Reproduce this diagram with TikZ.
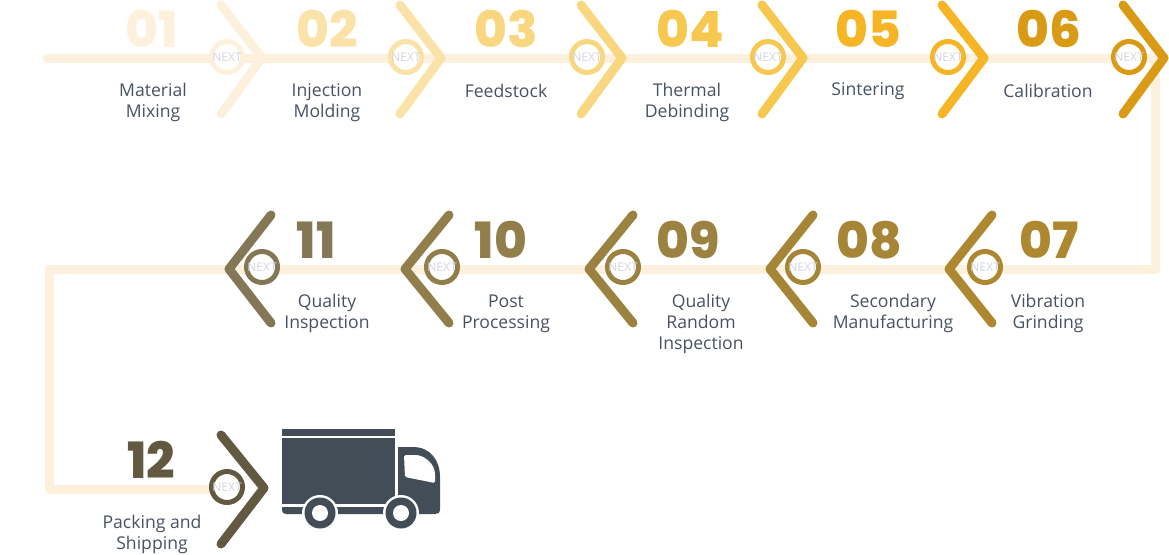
\documentclass[tikz,border=0pt]{standalone}
\usepackage{fontspec}
\setmainfont{Open Sans}
\newfontfamily\numfont{Poppins ExtraBold}
\usetikzlibrary{backgrounds}
\definecolor{TrackColor}{RGB}{253, 241, 222}
\definecolor{StepA}{RGB}{253, 241, 222}
\definecolor{StepB}{RGB}{251, 226, 168}
\definecolor{StepC}{RGB}{249, 215, 128}
\definecolor{StepD}{RGB}{247, 200, 80}
\definecolor{StepE}{RGB}{245, 181, 36}
\definecolor{StepF}{RGB}{217, 154, 22}
\definecolor{StepG}{RGB}{173, 136, 48}
\definecolor{StepH}{RGB}{166, 133, 54}
\definecolor{StepI}{RGB}{156, 130, 64}
\definecolor{StepJ}{RGB}{146, 126, 74}
\definecolor{StepK}{RGB}{132, 119, 86}
\definecolor{StepL}{RGB}{99, 88, 64}
\definecolor{TextColor}{RGB}{72, 82, 96}
\definecolor{NextColor}{RGB}{210, 214, 224}
\definecolor{TruckColor}{RGB}{67, 77, 87}

\begin{document}
\begin{tikzpicture}[
    x=1pt, y=-1pt,
    track/.style={line width=9pt, draw=TrackColor, line join=round, line cap=round},
    chev/.style={line width=9pt, line cap=round, line join=round},
    ringnext/.style={
        circle, draw, fill=white, line width=5pt, outer sep=0pt, inner sep=0pt,
        minimum size=31pt, text=NextColor, font=\fontsize{12}{12}\selectfont
    },
    stepnum/.style={font=\numfont\fontsize{50}{50}\selectfont, inner sep=0pt},
    steptext/.style={
        align=center, inner sep=0pt, text=TextColor,
        font=\fontsize{17.6}{21}\selectfont
    },
]
\useasboundingbox (0,0) rectangle (1169,554);

%% Rings
\node[ringnext, draw=StepA] (ring01) at (227,  57) {NEXT};
\node[ringnext, draw=StepB] (ring02) at (406,  57) {NEXT};
\node[ringnext, draw=StepC] (ring03) at (587,  57) {NEXT};
\node[ringnext, draw=StepD] (ring04) at (768,  57) {NEXT};
\node[ringnext, draw=StepE] (ring05) at (948,  57) {NEXT};
\node[ringnext, draw=StepF] (ring06) at (1129, 57) {NEXT};
\node[ringnext, draw=StepG] (ring07) at (985, 267) {NEXT};
\node[ringnext, draw=StepH] (ring08) at (803, 267) {NEXT};
\node[ringnext, draw=StepI] (ring09) at (623, 267) {NEXT};
\node[ringnext, draw=StepJ] (ring10) at (442, 267) {NEXT};
\node[ringnext, draw=StepK] (ring11) at (262, 267) {NEXT};
\node[ringnext, draw=StepL] (ring12) at (227, 487) {NEXT};

%% Track behind the rings
\coordinate (trackstart) at (47, 58.5);
\coordinate (tracktr) at (1155, 58.5);
\coordinate (trackmr) at (1155, 269);
\coordinate (trackml) at (49, 269);
\coordinate (trackbl) at (49, 489);
\begin{scope}[on background layer]
\draw[track] (trackstart) -- (tracktr) -- (trackmr) -- (trackml) -- (trackbl) -- (trackbl -| ring12.west);
\end{scope}

%% Chevrons
\draw[chev, StepA] (221, 5) -- (262, 58) -- (221, 114);
\draw[chev, StepB] (400, 5) -- (441, 58) -- (400, 114);
\draw[chev, StepC] (581, 5) -- (622, 58) -- (581, 114);
\draw[chev, StepD] (762, 5) -- (803, 58) -- (762, 114);
\draw[chev, StepE] (942, 5) -- (984, 58) -- (942, 114);
\draw[chev, StepF] (1123, 5) -- (1164, 58) -- (1123, 114);
\draw[chev, StepG] (992, 215) -- (949, 269) -- (992, 323);
\draw[chev, StepH] (813, 215) -- (770, 269) -- (813, 323);
\draw[chev, StepI] (633, 215) -- (589, 269) -- (633, 323);
\draw[chev, StepJ] (449, 215) -- (405, 269) -- (449, 323);
\draw[chev, StepK] (271, 215) -- (229, 269) -- (271, 323);
\draw[chev, StepL] (221, 435) -- (264, 488) -- (221, 544);

%% Numbers
\node[stepnum, StepA] (num01) at (152, 29) {01};
\node[stepnum, StepB] (num02) at (327, 29) {02};
\node[stepnum, StepC] (num03) at (506, 29) {03};
\node[stepnum, StepD] (num04) at (690, 29) {04};
\node[stepnum, StepE] (num05) at (868, 29) {05};
\node[stepnum, StepF] (num06) at (1049, 29) {06};
\node[stepnum, StepG] (num07) at (1049, 240) {07};
\node[stepnum, StepH] (num08) at (869, 240) {08};
\node[stepnum, StepI] (num09) at (688, 240) {09};
\node[stepnum, StepJ] (num10) at (501, 240) {10};
\node[stepnum, StepK] (num11) at (316, 240) {11};
\node[stepnum, StepL] (num12) at (151, 460) {12};

%% Step names
\node[steptext] (txt01) at (153, 102.5) {Material\\Mixing};
\node[steptext] (txt02) at (327, 102.5) {Injection\\Molding};
\node[steptext] (txt03) at (506, 90.5) {Feedstock};
\node[steptext] (txt04) at (687, 102.5) {Thermal\\Debinding};
\node[steptext] (txt05) at (868, 91.5) {Sintering};
\node[steptext] (txt06) at (1048, 90.5) {Calibration};
\node[steptext] (txt07) at (1048, 313) {Vibration\\Grinding};
\node[steptext] (txt08) at (893, 313) {Secondary\\Manufacturing};
\node[steptext] (txt09) at (701, 323.5) {Quality\\Random\\Inspection};
\node[steptext] (txt10) at (506, 314) {Post\\Processing};
\node[steptext] (txt11) at (327, 313) {Quality\\Inspection};
\node[steptext] (txt12) at (152, 534.5) {Packing and\\Shipping};

%% Truck
\fill[TruckColor] (282, 429) rectangle (395, 436);
\fill[TruckColor] (282, 438) rectangle (395, 504);
\fill[TruckColor] (282, 507) -- (395, 507) -- (395, 514) -- (286, 514)
    .. controls (283, 514) and (282, 512) .. (282, 510) -- cycle;
\fill[TruckColor] (398, 447) -- (413, 447) .. controls (430, 447) and (440, 460) .. (440, 477)
    -- (440, 509) .. controls (440, 513) and (438, 514) .. (435, 514) -- (398, 514) -- cycle;
\fill[white, rounded corners=1.5pt] (404, 455) -- (417, 455) .. controls (426, 457) and (434, 464) .. (435, 474)
    -- (435, 483) -- (405, 477) -- cycle;
\fill[white] (320, 513) circle (18);
\fill[white] (401, 513) circle (18);
\fill[TruckColor] (320, 513) circle (15.5);
\fill[TruckColor] (401, 513) circle (15.5);
\fill[white] (320, 513) circle (8);
\fill[white] (401, 513) circle (8);

\end{tikzpicture}
\end{document}
